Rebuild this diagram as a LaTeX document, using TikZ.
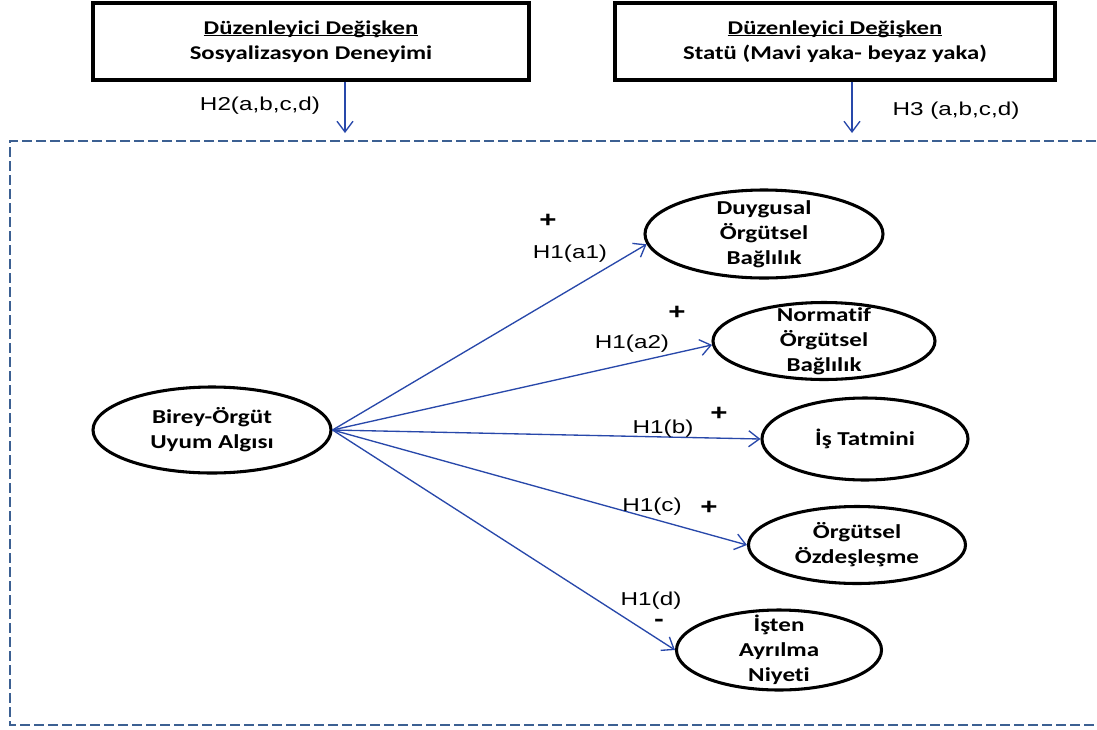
\documentclass[tikz,border=0pt]{standalone}
\usepackage{fontspec}
\setmainfont{Carlito}[FakeStretch=1.27,Ligatures=NoCommon]
\newfontfamily\arialf{Liberation Sans}[FakeStretch=1.3]
\usetikzlibrary{shapes.geometric,arrows.meta}
\definecolor{arrowblue}{RGB}{40,72,170}
\definecolor{dashblue}{RGB}{60,96,146}
\newcommand\myul[1]{\setbox0\hbox{#1}\rlap{\rule[-1.6pt]{\wd0}{1pt}}\box0}
\tikzset{
  modbox/.style={draw=black,line width=2.3pt,fill=white,minimum height=57.75pt,inner sep=0pt,
    align=center,font=\bfseries\fontsize{14.6}{18.75}\selectfont},
  ell/.style={ellipse,draw=black,line width=2.3pt,inner sep=0pt},
  etxt/.style={align=center,inner sep=0pt,font=\bfseries\fontsize{14.8}{18.75}\selectfont},
  hlab/.style={inner sep=0pt,anchor=base,font=\arialf\fontsize{14}{16}\selectfont},
  sgn/.style={inner sep=0pt,font=\arialf\bfseries\fontsize{17}{18}\selectfont},
  conn/.style={draw=arrowblue,line width=1pt,-{Straight Barb[length=8pt,width=12pt,line width=1pt]}},
}
\begin{document}
\begin{tikzpicture}[x=0.75pt,y=-0.75pt]
\clip (0,0) rectangle (1097,729);
\fill[white] (0,0) rectangle (1097,729);
% dashed frame
\draw[dashblue,line width=2pt,dash pattern=on 7.5pt off 3pt] (1110,141) -- (10,141) -- (10,725) -- (1110,725);
% moderator boxes
\node[modbox,minimum width=327pt] (box1) at (311,41.5) {\myul{Düzenleyici Değişken}\\Sosyalizasyon Deneyimi};
\node[modbox,minimum width=330pt] (box2) at (835,41.5) {\myul{Düzenleyici Değişken}\\Statü (Mavi yaka- beyaz yaka)};
\coordinate (h2end) at (345,133);
\coordinate (h3end) at (852,133);
\draw[conn] (h2end |- box1.south) -- (h2end);
\draw[conn] (h3end |- box2.south) -- (h3end);
\node[hlab] (h2) at (260,110) {H2(a,b,c,d)};
\node[hlab] (h3) at (956,115) {H3 (a,b,c,d)};
% ellipses
\node[ell,minimum width=178.5pt,minimum height=64.5pt] (bir) at (212,430) {};
\node[etxt] (birt) at (bir) {Birey-Örgüt\\Uyum Algısı};
\node[ell,minimum width=178.5pt,minimum height=66pt] (duy) at (764,234) {};
\node[etxt] (duyt) at (duy) {Duygusal\\Örgütsel\\Bağlılık};
\node[ell,minimum width=166.5pt,minimum height=57.75pt] (nor) at (824,341) {};
\node[etxt] (nort) at (nor) {Normatif\\Örgütsel\\Bağlılık};
\node[ell,minimum width=154.5pt,minimum height=61.5pt] (ist) at (865,439) {};
\node[etxt] (istt) at (ist) {İş Tatmini};
\node[ell,minimum width=162.75pt,minimum height=57.75pt] (ozd) at (857,545) {};
\node[etxt] (ozdt) at (ozd) {Örgütsel\\Özdeşleşme};
\node[ell,minimum width=153.75pt,minimum height=60pt] (ayr) at (779,650) {};
\node[etxt] (ayrt) at (ayr) {İşten\\Ayrılma\\Niyeti};
% connectors
\draw[conn] (bir.east) -- (duy.185);
\draw[conn] (bir.east) -- (nor.182);
\draw[conn] (bir.east) -- (ist.west);
\draw[conn] (bir.east) -- (ozd.west);
\draw[conn] (bir.east) -- (ayr.west);
% labels
\node[sgn] (p1) at (548,221) {+};
\node[hlab] (l1) at (570,258) {H1(a1)};
\node[sgn] (p2) at (677,313) {+};
\node[hlab] (l2) at (632,348) {H1(a2)};
\node[hlab] (l3) at (663,433) {H1(b)};
\node[sgn] (p3) at (719,414) {+};
\node[hlab] (l4) at (652,511) {H1(c)};
\node[sgn] (p4) at (709,508) {+};
\node[hlab] (l5) at (651,605) {H1(d)};
\node[sgn] (m5) at (659,623) {-};
\end{tikzpicture}
\end{document}
